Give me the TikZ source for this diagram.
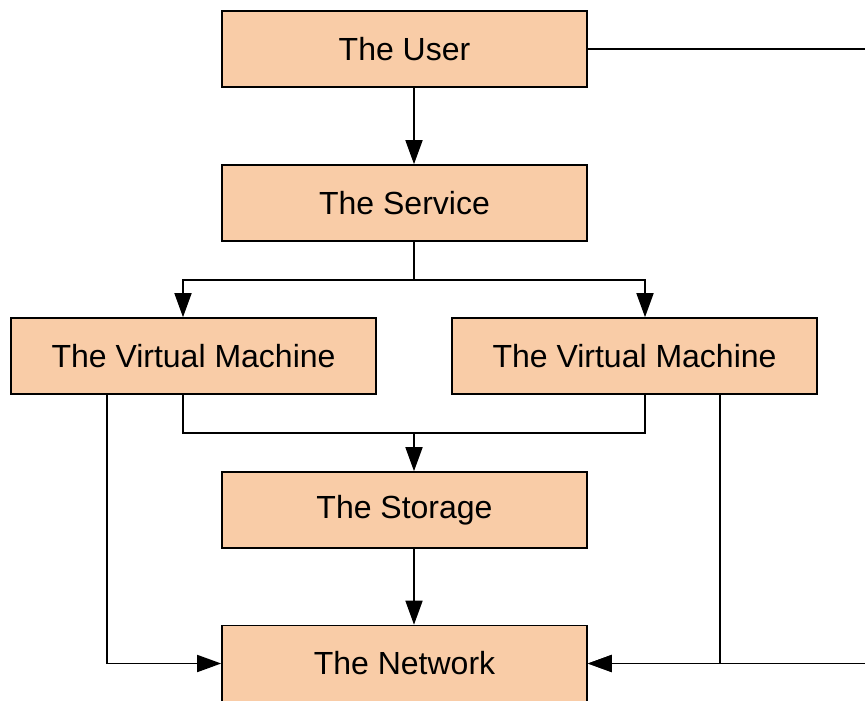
\documentclass[tikz,border=0pt]{standalone}
\usepackage{fontspec}
\setmainfont{Liberation Sans}
\usetikzlibrary{arrows.meta}
\definecolor{peach}{RGB}{249,204,167}
\tikzset{
  block/.style={draw, line width=0.8pt, fill=peach, minimum width=182.5pt, minimum height=38pt,
    inner sep=0pt, font=\fontsize{16}{19}\selectfont},
  link/.style={line width=0.8pt},
  arr/.style={link, -{Triangle[length=12pt,width=8.5pt]}}
}
\begin{document}
\begin{tikzpicture}[x=0.5pt,y=-0.5pt]
\clip (0,0) rectangle (865,700);
\node[block] (user) at (404.5,49) {The User};
\node[block] (service) at (404.5,203) {The Service};
\node[block] (vm1) at (193.5,356) {The Virtual Machine};
\node[block] (vm2) at (634.5,356) {The Virtual Machine};
\node[block] (storage) at (404.5,510) {The Storage};
\node[block] (network) at (404.5,663.5) {The Network};
\coordinate (fork) at (414,280);
\coordinate (merge) at (414,433);
\coordinate (lx) at (183,0);
\coordinate (rx) at (645,0);
\coordinate (lout) at (107,0);
\coordinate (rout) at (720,0);
\coordinate (far) at (880,0);
\draw[arr] (user.south -| fork) -- (service.north -| fork);
\draw[link] (service.south -| fork) -- (fork);
\draw[arr] (fork) -| (vm1.north -| lx);
\draw[arr] (fork) -| (vm2.north -| rx);
\draw[link] (vm1.south -| lx) |- (merge);
\draw[link] (vm2.south -| rx) |- (merge);
\draw[arr] (merge) -- (storage.north -| merge);
\draw[arr] (storage.south -| merge) -- (network.north -| merge);
\draw[arr] (vm1.south -| lout) |- (network.west);
\draw[arr] (vm2.south -| rout) |- (network.east);
\draw[arr] (user.east) -| (far |- network.east) -- (network.east);
\end{tikzpicture}
\end{document}
